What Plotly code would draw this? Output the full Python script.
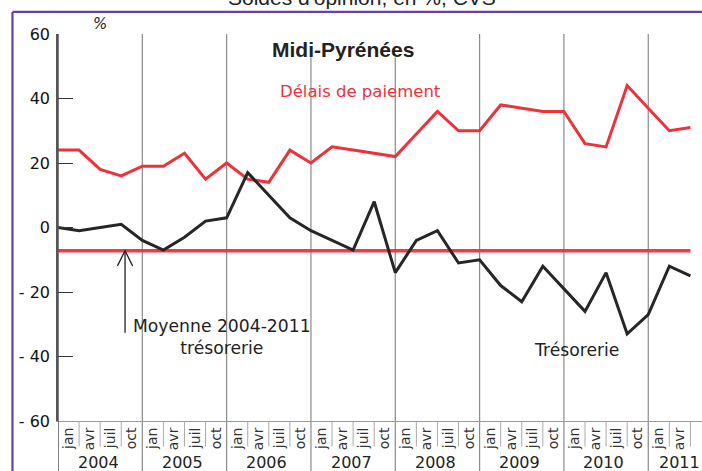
import plotly.graph_objects as go

# ---------------- data ----------------
YEARS = ["2004", "2005", "2006", "2007", "2008", "2009", "2010", "2011"]
QUARTERS = ["jan", "avr", "juil", "oct"]

DELAIS_PAIEMENT = [24, 24, 18, 16,
                   19, 19, 23, 15,
                   20, 15, 14, 24,
                   20, 25, 24, 23,
                   22, 29, 36, 30,
                   30, 38, 37, 36,
                   36, 26, 25, 44,
                   37, 30, 31]

TRESORERIE = [0, -1, 0, 1,
              -4, -7, -3, 2,
              3, 17, 10, 3,
              -1, -4, -7, 8,
              -14, -4, -1, -11,
              -10, -18, -23, -12,
              -19, -26, -14, -33,
              -27, -12, -15]

MOYENNE_TRESORERIE = -7.2

Y_TICKS = [60, 40, 20, 0, -20, -40, -60]
Y_TICK_TEXT = ["60", "40", "20", "0", "- 20", "- 40", "- 60"]

# ---------------- figure ----------------
n = len(DELAIS_PAIEMENT)
x = list(range(n))
last = n - 1

RED = "rgb(236,50,58)"
BLACK = "#262626"
GRID = "#8a8a8a"
FONT = "DejaVu Sans"

fig = go.Figure()

fig.add_trace(go.Scatter(x=[0, last], y=[MOYENNE_TRESORERIE, MOYENNE_TRESORERIE],
                         mode="lines", line=dict(color=RED, width=3.5),
                         opacity=0.95, hoverinfo="skip", showlegend=False))
fig.add_trace(go.Scatter(x=x, y=DELAIS_PAIEMENT, mode="lines",
                         line=dict(color=RED, width=3), name="Délais de paiement",
                         showlegend=False))
fig.add_trace(go.Scatter(x=x, y=TRESORERIE, mode="lines",
                         line=dict(color=BLACK, width=3), name="Trésorerie",
                         showlegend=False))

shapes = []
# year separators (full height, extending into the label band)
for k in range(1, len(YEARS)):
    xi = 4 * k
    top = 0.94 if k in (3, 4) else 1.0
    shapes.append(dict(type="line", xref="x", yref="paper", x0=xi, x1=xi,
                       y0=-0.13, y1=top, line=dict(color=GRID, width=1.2),
                       layer="below"))
# y axis line extension through the label band
shapes.append(dict(type="line", xref="x", yref="paper", x0=0, x1=0,
                   y0=-0.13, y1=1.0, line=dict(color="#555", width=1.5)))
# quarter separators in the label band
for q in range(1, 4 * len(YEARS)):
    if q % 4 == 0:
        continue
    shapes.append(dict(type="line", xref="x", yref="paper", x0=q, x1=q,
                       y0=-0.066, y1=0, line=dict(color="#aaa", width=1)))
# arrow pointing at the mean line
ax_x = 3.18
shapes.append(dict(type="line", xref="x", yref="y", x0=ax_x, x1=ax_x,
                   y0=-32.6, y1=MOYENNE_TRESORERIE, line=dict(color="#222", width=1.3)))
shapes.append(dict(type="path", xref="x", yref="y",
                   path=f"M {ax_x-0.36},{MOYENNE_TRESORERIE-4.7} L {ax_x},{MOYENNE_TRESORERIE} L {ax_x+0.36},{MOYENNE_TRESORERIE-4.7}",
                   line=dict(color="#222", width=1.3)))
# purple frame
shapes.append(dict(type="line", xref="paper", yref="paper", x0=-0.0707, x1=-0.0707,
                   y0=-0.2, y1=1.057, line=dict(color="#6a3fa0", width=2.2)))
shapes.append(dict(type="line", xref="paper", yref="paper", x0=-0.0707, x1=1.1,
                   y0=1.057, y1=1.057, line=dict(color="#6a3fa0", width=2.2)))

annotations = [
    dict(text="Soldes d'opinion, en %, CVS", xref="paper", yref="paper",
         x=0.472, y=1.094, xanchor="center", yanchor="middle", showarrow=False,
         font=dict(family="Liberation Sans", size=21, color="#222")),
    dict(text="<b>Midi-Pyrénées</b>", xref="x", yref="y", x=13.5, y=55.3,
         showarrow=False, font=dict(family="Liberation Sans", size=21, color="#222")),
    dict(text="Délais de paiement", xref="x", yref="y", x=14.33, y=42.2,
         showarrow=False, font=dict(family=FONT, size=16.5, color=RED)),
    dict(text="Moyenne 2004-2011<br>trésorerie", xref="x", yref="y", x=7.78, y=-33.8,
         showarrow=False, font=dict(family=FONT, size=17.2, color="#222")),
    dict(text="Trésorerie", xref="x", yref="y", x=24.62, y=-38.1,
         showarrow=False, font=dict(family=FONT, size=17.2, color="#222")),
    dict(text="<i>%</i>", xref="paper", yref="paper", x=(100 - 58) / 644, y=1.026,
         xanchor="center", yanchor="middle",
         showarrow=False, font=dict(family=FONT, size=15, color="#222")),
]
for k, yr in enumerate(YEARS):
    center = min(4 * k + 1.9, last - 0.5)
    annotations.append(dict(text=yr, xref="x", yref="paper", x=center, y=-0.1085,
                            xanchor="center", yanchor="middle",
                            showarrow=False, font=dict(family=FONT, size=16, color="#222")))

tickvals = [q + 0.5 for q in range(4 * len(YEARS))]
ticktext = [QUARTERS[q % 4] for q in range(4 * len(YEARS))]

fig.update_layout(
    width=702, height=471,
    margin=dict(l=58, r=0, t=34, b=50),
    paper_bgcolor="white", plot_bgcolor="white",
    showlegend=False,
    shapes=shapes, annotations=annotations,
    xaxis=dict(range=[0, 30.55], showgrid=False, zeroline=False,
               showline=True, linecolor="#999", linewidth=1,
               tickmode="array", tickvals=tickvals, ticktext=ticktext,
               tickangle=-90, ticks="", ticklen=0,
               tickfont=dict(family=FONT, size=14, color="#333")),
    yaxis=dict(range=[-60, 60], showgrid=False, zeroline=False,
               showline=True, linecolor="#555", linewidth=1.5,
               tickmode="array", tickvals=Y_TICKS, ticktext=Y_TICK_TEXT,
               ticks="inside", ticklen=15, tickcolor="#333", tickwidth=1.2,
               ticklabelstandoff=3,
               tickfont=dict(family=FONT, size=16, color="#111")),
)

fig.write_html("out.html", config={"displayModeBar": False},
               post_script="document.body.style.margin='0';document.body.style.overflow='hidden';")
